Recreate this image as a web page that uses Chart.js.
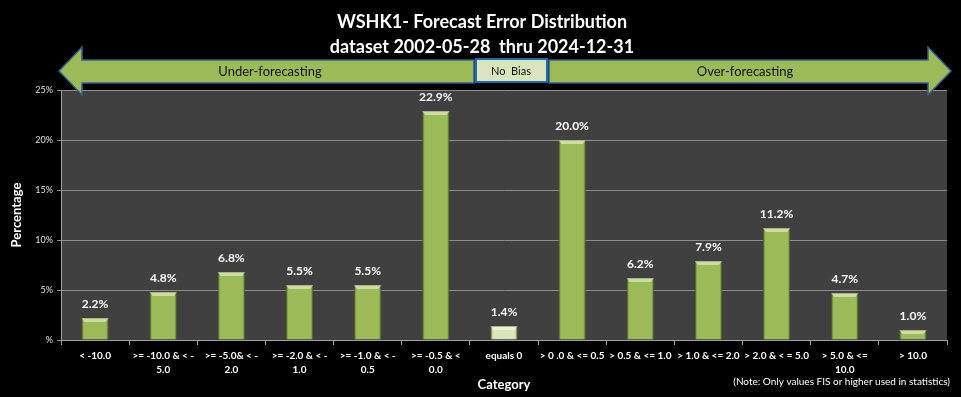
<!DOCTYPE html>
<html>
<head>
<meta charset="utf-8">
<script src="https://cdn.jsdelivr.net/npm/chart.js@4"></script>
<style>
html,body{margin:0;padding:0;background:#000;}
#wrap{width:961px;height:397px;position:relative;}
</style>
</head>
<body>
<div id="wrap"><canvas id="c" width="961" height="397"></canvas></div>
<script>
const categories = [
  '< -10.0',
  ['>= -10.0 & < -', '5.0'],
  ['>= -5.0& < -', '2.0'],
  ['>= -2.0 & < -', '1.0'],
  ['>= -1.0 & < -', '0.5'],
  ['>= -0.5 & <', '0.0'],
  'equals 0',
  '> 0 .0 & <= 0.5',
  '> 0.5 & <= 1.0',
  '> 1.0 & <= 2.0',
  '> 2.0 & < = 5.0',
  ['> 5.0 & <=', '10.0'],
  '> 10.0'
];
const percentages = [2.2, 4.8, 6.8, 5.5, 5.5, 22.9, 1.4, 20.0, 6.2, 7.9, 11.2, 4.7, 1.0];
const yTicks = [0, 5, 10, 15, 20, 25];
const titleLines = ['WSHK1- Forecast Error Distribution', 'dataset 2002-05-28  thru 2024-12-31'];
const noteText = '(Note: Only values FIS or higher used in statistics)';
const arrowTexts = ['Under-forecasting', 'No  Bias', 'Over-forecasting'];

const FONT = 'Lato, "Open Sans", sans-serif';

const barColors = categories.map((c) => (c === 'equals 0' ? '#d7e4bc' : '#9bbb59'));

const decor = {
  id: 'decor',
  beforeDraw(chart) {
    const {ctx, chartArea: a} = chart;
    ctx.save();
    ctx.fillStyle = '#000';
    ctx.fillRect(0, 0, chart.width, chart.height);
    ctx.fillStyle = '#404040';
    ctx.fillRect(a.left, a.top, a.right - a.left, a.bottom - a.top);
    ctx.restore();
  },
  afterDatasetsDraw(chart) {
    const {ctx} = chart;
    const meta = chart.getDatasetMeta(0);
    ctx.save();
    // bevel shading on bars
    meta.data.forEach((bar) => {
      const w = bar.width;
      const x0 = bar.x - w / 2;
      const top = bar.y;
      const bot = bar.base;
      ctx.fillStyle = 'rgba(60,80,20,0.25)';
      ctx.fillRect(x0, top, 2, bot - top);
      ctx.fillRect(x0 + w - 2, top, 2, bot - top);
      ctx.fillStyle = 'rgba(255,255,235,0.5)';
      ctx.beginPath();
      ctx.moveTo(x0, top);
      ctx.lineTo(x0 + w, top);
      ctx.lineTo(x0 + w - 3, top + 4);
      ctx.lineTo(x0 + 3, top + 4);
      ctx.closePath();
      ctx.fill();
    });
    ctx.fillStyle = '#ffffff';
    ctx.font = 'bold 12px ' + FONT;
    ctx.textAlign = 'center';
    ctx.textBaseline = 'middle';
    meta.data.forEach((bar, i) => {
      ctx.fillText(percentages[i].toFixed(1) + '%', bar.x, bar.y - 14);
    });
    ctx.restore();
  },
  afterDraw(chart) {
    const {ctx} = chart;
    ctx.save();
    ctx.fillStyle = '#ffffff';
    ctx.textAlign = 'center';
    ctx.textBaseline = 'middle';
    ctx.font = 'bold 18px ' + FONT;
    ctx.fillText(titleLines[0], 482, 22);
    ctx.fillText(titleLines[1], 482, 47);

    const bodyTop = 60, bodyBot = 83, headTop = 47, headBot = 95, midY = 71;
    ctx.lineWidth = 1.5;
    ctx.strokeStyle = '#385d8a';
    ctx.fillStyle = '#9bbb59';
    ctx.beginPath();
    ctx.moveTo(59, midY);
    ctx.lineTo(82, headTop);
    ctx.lineTo(82, bodyTop);
    ctx.lineTo(474, bodyTop);
    ctx.lineTo(474, bodyBot);
    ctx.lineTo(82, bodyBot);
    ctx.lineTo(82, headBot);
    ctx.closePath();
    ctx.fill();
    ctx.stroke();
    ctx.beginPath();
    ctx.moveTo(951, midY);
    ctx.lineTo(928, headTop);
    ctx.lineTo(928, bodyTop);
    ctx.lineTo(549, bodyTop);
    ctx.lineTo(549, bodyBot);
    ctx.lineTo(928, bodyBot);
    ctx.lineTo(928, headBot);
    ctx.closePath();
    ctx.fill();
    ctx.stroke();
    ctx.fillStyle = '#d7e4bc';
    ctx.strokeStyle = '#1f6bb0';
    ctx.lineWidth = 2;
    ctx.fillRect(476, 59, 71, 23);
    ctx.strokeRect(476, 59, 71, 23);

    ctx.fillStyle = '#111111';
    ctx.font = '13px ' + FONT;
    ctx.fillText(arrowTexts[0], 270, 72);
    ctx.fillText(arrowTexts[2], 745, 72);
    ctx.font = '11px ' + FONT;
    ctx.fillText(arrowTexts[1], 511, 71);

    ctx.fillStyle = '#ffffff';
    ctx.font = '10px ' + FONT;
    ctx.textAlign = 'right';
    ctx.fillText(noteText, 950, 382);
    ctx.restore();
  }
};

new Chart(document.getElementById('c'), {
  type: 'bar',
  data: {
    labels: categories,
    datasets: [{
      data: percentages,
      backgroundColor: barColors,
      borderColor: 'rgba(90,110,50,0.9)',
      borderWidth: 1,
      barPercentage: 0.4,
      categoryPercentage: 1.0
    }]
  },
  options: {
    responsive: false,
    animation: false,
    devicePixelRatio: 1,
    layout: { padding: { top: 90, left: 0, right: 14, bottom: 0 } },
    plugins: {
      legend: { display: false },
      tooltip: { enabled: false },
      title: { display: false }
    },
    scales: {
      x: {
        offset: true,
        grid: {
          offset: true,
          drawOnChartArea: false,
          drawTicks: true,
          tickLength: 5,
          color: '#a0a0a0'
        },
        border: { color: '#a0a0a0', width: 1 },
        ticks: {
          color: '#ffffff',
          font: { family: FONT, size: 10, weight: 'bold', lineHeight: 1.4 },
          maxRotation: 0,
          minRotation: 0,
          autoSkip: false,
          padding: 4
        },
        title: {
          display: true,
          text: 'Category',
          color: '#ffffff',
          font: { family: FONT, size: 13, weight: 'bold' },
          padding: 4
        },
        afterFit(scale) { scale.height = 57; }
      },
      y: {
        min: 0,
        max: 25,
        afterBuildTicks(scale) { scale.ticks = yTicks.map(v => ({ value: v })); },
        grid: {
          color: '#8c8c8c',
          lineWidth: 1,
          tickLength: 4
        },
        border: { color: '#a0a0a0', width: 1 },
        ticks: {
          color: '#e0e0e0',
          font: { family: FONT, size: 9 },
          padding: 4,
          callback: (v) => (v === 0 ? '%' : v + '%')
        },
        title: {
          display: true,
          text: 'Percentage',
          color: '#ffffff',
          font: { family: FONT, size: 13, weight: 'bold' },
          padding: { top: 9, bottom: 0 }
        },
        afterFit(scale) { scale.width = 61; }
      }
    }
  },
  plugins: [decor]
});
</script>
</body>
</html>
